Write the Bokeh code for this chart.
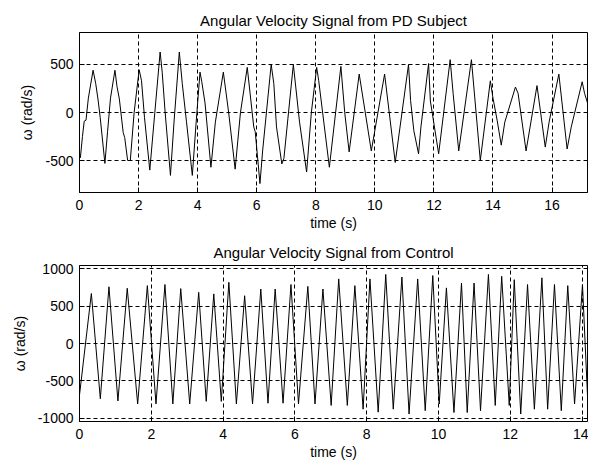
from bokeh.plotting import figure
from bokeh.layouts import column
from bokeh.models import FixedTicker, Range1d
from bokeh.embed import file_html
from bokeh.resources import INLINE

# ---- PD subject signal (time in s, angular velocity in rad/s) ----
pd_t = [0.00, 0.03, 0.10, 0.16, 0.22, 0.30, 0.46, 0.55, 0.63, 0.70, 0.86, 0.95,
        1.05, 1.20, 1.27, 1.35, 1.48, 1.53, 1.63, 1.72, 1.85, 2.02, 2.10, 2.20,
        2.38, 2.55, 2.73, 2.80, 2.90, 3.08, 3.20, 3.38, 3.48, 3.62, 3.82, 3.95,
        4.08, 4.14, 4.25, 4.45, 4.60, 4.87, 5.05, 5.27, 5.45, 5.68, 5.90, 5.95,
        6.11, 6.20, 6.49, 6.58, 6.67, 6.85, 6.92, 7.24, 7.45, 7.69, 7.85, 8.03,
        8.10, 8.46, 8.85, 8.98, 9.13, 9.47, 9.88, 10.33, 10.69, 11.14, 11.21, 11.32,
        11.48, 11.56, 11.82, 11.88, 12.16, 12.55, 12.65, 12.84, 13.27, 13.57, 13.91, 14.00,
        14.14, 14.28, 14.40, 14.76, 14.85, 15.12, 15.49, 15.77, 15.90, 16.23, 16.51, 16.65,
        17.02, 17.10, 17.20]
pd_w = [-430, -470, -250, -90, -80, 150, 440, 300, 130, -50, -530, -200,
        150, 440, 270, 140, -210, -260, -500, -500, 0, 445, 330, -50,
        -600, 0, 630, 420, 0, -655, -100, 630, 300, -90, -655, -100,
        420, 320, 100, -570, -100, 420, 0, -590, 0, 470, -150, -200,
        -740, -400, 500, 300, -150, -535, -480, 500, -100, -620, 0, 470,
        330, -570, 480, 0, -410, 400, -400, 400, -520, 500, 125, -190,
        -430, -150, 510, 120, -430, 550, 200, -400, 550, -500, 330, 150,
        -80, -340, -100, 265, 200, -400, 280, -360, -100, 400, -380, -150,
        320, 200, 100]

# ---- Control signal ----
ctrl_t = [0.00, 0.33, 0.58, 0.82, 1.07, 1.33, 1.62, 1.89, 2.13, 2.38, 2.60, 2.82,
          3.07, 3.32, 3.53, 3.74, 3.95, 4.16, 4.37, 4.60, 4.82, 5.05, 5.25, 5.45,
          5.67, 5.89, 6.10, 6.36, 6.56, 6.78, 7.01, 7.22, 7.46, 7.67, 7.90, 8.09,
          8.32, 8.53, 8.74, 8.98, 9.18, 9.42, 9.63, 9.84, 10.02, 10.22, 10.43, 10.64,
          10.80, 10.99, 11.17, 11.39, 11.58, 11.76, 11.97, 12.11, 12.29, 12.48, 12.67, 12.88,
          13.04, 13.23, 13.42, 13.60, 13.79, 14.01, 14.15]
ctrl_w = [-690, 670, -740, 760, -770, 740, -810, 775, -810, 790, -810, 735,
          -810, 685, -775, 665, -775, 820, -810, 640, -810, 730, -800, 730,
          -800, 790, -810, 765, -810, 730, -830, 865, -830, 775, -880, 865,
          -920, 925, -880, 890, -945, 865, -900, 910, -810, 745, -925, 810,
          -925, 810, -900, 925, -830, 900, -830, 855, -945, 790, -880, 880,
          -880, 790, -900, 775, -810, 790, -700]

pd_xticks = [0, 2, 4, 6, 8, 10, 12, 14, 16]
pd_yticks = [-500, 0, 500]
ctrl_xticks = [0, 2, 4, 6, 8, 10, 12, 14]
ctrl_yticks = [-1000, -500, 0, 500, 1000]

FONT = "Liberation Sans"


def make_fig(title, t, w, xr, yr, xticks, yticks, height, mb_top, mb_bottom, title_standoff):
    p = figure(width=588, height=height, x_range=Range1d(*xr), y_range=Range1d(*yr),
               output_backend="svg", toolbar_location=None,
               min_border_left=79, min_border_right=1,
               min_border_top=mb_top, min_border_bottom=mb_bottom,
               title=title, background_fill_color="white", border_fill_color="white")
    p.title.align = "center"
    p.title.text_font = FONT
    p.title.text_font_size = "15px"
    p.title.text_font_style = "normal"
    p.title.text_color = "black"
    p.title.standoff = title_standoff

    p.line(t, w, line_color="black", line_width=1)

    p.outline_line_color = "black"
    p.outline_line_alpha = 1
    p.outline_line_width = 1

    for ax, ticks in ((p.xaxis[0], xticks), (p.yaxis[0], yticks)):
        ax.ticker = FixedTicker(ticks=ticks)
        ax.major_label_overrides = {v: str(v) for v in ticks}
        ax.major_tick_in = 5
        ax.major_tick_out = 0
        ax.minor_tick_line_color = None
        ax.axis_line_color = "black"
        ax.major_tick_line_color = "black"
        ax.major_label_text_font = FONT
        ax.major_label_text_font_size = "14px"
        ax.major_label_text_color = "black"
        ax.axis_label_text_font = FONT
        ax.axis_label_text_font_size = "14px"
        ax.axis_label_text_font_style = "normal"
        ax.axis_label_text_color = "black"
    p.xaxis.axis_label = "time (s)"
    p.yaxis.axis_label = "\u03c9 (rad/s)"
    p.xaxis.major_label_standoff = 7
    p.xaxis.axis_label_standoff = 2
    p.yaxis.major_label_standoff = 6
    p.yaxis.axis_label_standoff = 7

    p.xgrid.ticker = FixedTicker(ticks=xticks)
    p.ygrid.ticker = FixedTicker(ticks=yticks)
    for g in (p.xgrid, p.ygrid):
        g.grid_line_color = "black"
        g.grid_line_dash = "4 3"
        g.grid_line_width = 1
        g.grid_line_alpha = 1
    return p


p1 = make_fig("Angular Velocity Signal from PD Subject", pd_t, pd_w, (0, 17.2), (-833, 833),
              pd_xticks, pd_yticks, 233, 32, 41, 8)
p2 = make_fig("Angular Velocity Signal from Control", ctrl_t, ctrl_w, (0, 14.15), (-1045, 1045),
              ctrl_xticks, ctrl_yticks, 229, 32, 41, 10)

layout = column(p1, p2, spacing=0)
open("out.html", "w").write(file_html(layout, INLINE))
